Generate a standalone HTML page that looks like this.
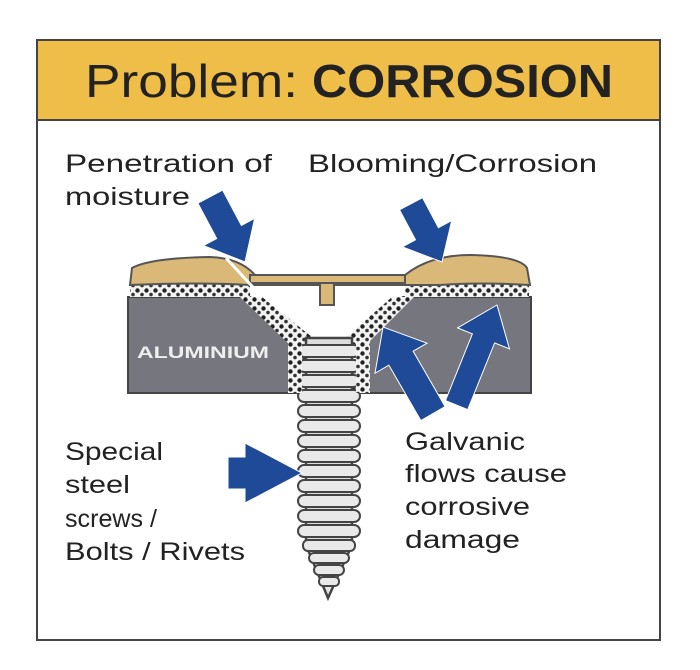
<!DOCTYPE html>
<html><head><meta charset="utf-8"><style>
html,body{margin:0;padding:0;background:#fff;width:700px;height:670px;overflow:hidden}
svg{display:block}
text{font-family:"Liberation Sans",sans-serif;fill:#222}
</style></head><body>
<svg width="700" height="670" viewBox="0 0 700 670" xmlns="http://www.w3.org/2000/svg">
<defs>
<pattern id="dots" width="9" height="9" patternUnits="userSpaceOnUse">
<rect width="9" height="9" fill="#f2f2f2"/>
<circle cx="2.5" cy="2.5" r="2.2" fill="#222"/>
<circle cx="7" cy="6.5" r="1.8" fill="#333"/>
</pattern>
</defs>
<rect x="37" y="40" width="623" height="600" fill="#fff" stroke="#444" stroke-width="2"/>
<rect x="37" y="40" width="623" height="80" fill="#efbe48" stroke="#444" stroke-width="2"/>
<text x="85" y="97" font-size="46" textLength="213" lengthAdjust="spacingAndGlyphs">Problem:</text>
<text x="312" y="97" font-size="46" font-weight="bold" textLength="301" lengthAdjust="spacingAndGlyphs">CORROSION</text>

<text x="65" y="172" font-size="25" textLength="207" lengthAdjust="spacingAndGlyphs">Penetration of</text>
<text x="65" y="205" font-size="25" textLength="125" lengthAdjust="spacingAndGlyphs">moisture</text>
<text x="308" y="172" font-size="25" textLength="289" lengthAdjust="spacingAndGlyphs">Blooming/Corrosion</text>
<text x="65" y="460" font-size="25" textLength="98" lengthAdjust="spacingAndGlyphs">Special</text>
<text x="65" y="493" font-size="25" textLength="65" lengthAdjust="spacingAndGlyphs">steel</text>
<text x="65" y="527" font-size="25" textLength="92" lengthAdjust="spacingAndGlyphs">screws /</text>
<text x="65" y="560" font-size="25" textLength="180" lengthAdjust="spacingAndGlyphs">Bolts / Rivets</text>
<text x="405" y="450" font-size="25" textLength="120" lengthAdjust="spacingAndGlyphs">Galvanic</text>
<text x="405" y="482" font-size="25" textLength="162" lengthAdjust="spacingAndGlyphs">flows cause</text>
<text x="405" y="515" font-size="25" textLength="125" lengthAdjust="spacingAndGlyphs">corrosive</text>
<text x="405" y="548" font-size="25" textLength="115" lengthAdjust="spacingAndGlyphs">damage</text>

<!-- aluminium slab -->
<polygon points="128,297 250,297 307,337 300,340 300,393 128,393" fill="#76777e" stroke="#444" stroke-width="2"/>
<polygon points="403,297 531,297 531,393 360,393 360,340 350,337" fill="#76777e" stroke="#444" stroke-width="2"/>
<text x="137" y="358" font-size="17" font-weight="bold" style="fill:#eee" textLength="132" lengthAdjust="spacingAndGlyphs">ALUMINIUM</text>
<!-- corrosion bands -->
<polygon points="240,297 262,297 312,337 310,393 288,393 290,345" fill="url(#dots)"/>
<polygon points="392,297 414,297 366,345 368,393 348,393 346,337" fill="url(#dots)"/>
<rect x="130" y="284" width="120" height="13" fill="url(#dots)"/>
<rect x="405" y="284" width="124" height="13" fill="url(#dots)"/>
<!-- tan coating -->
<path d="M130,285 L132,268 Q150,258 210,257 Q240,258 255,275 L405,275 Q430,255 470,255 Q520,256 527,268 L530,285 Q480,282 440,285 L405,285 L250,285 Q200,282 130,285 Z" fill="#d9b878" stroke="#555" stroke-width="2"/>
<rect x="250" y="275" width="155" height="8" fill="#d9b878" stroke="#555" stroke-width="2"/>
<rect x="320" y="283" width="14" height="22" fill="#d9b878" stroke="#555" stroke-width="2"/>
<line x1="226" y1="258" x2="262" y2="297" stroke="#fff" stroke-width="3"/>
<!-- screw -->
<g stroke="#444" stroke-width="2.5" fill="#e6e6e6">
<rect x="306" y="338" width="46" height="210" fill="#ddd"/>
<polygon points="306,545 352,545 328,598"/>
</g>
<g stroke="#444" stroke-width="2" fill="#e9e9e9">
<rect x="298" y="345" width="62" height="12" rx="6"/><rect x="298" y="360" width="62" height="12" rx="6"/>
<rect x="298" y="375" width="62" height="12" rx="6"/><rect x="298" y="390" width="62" height="12" rx="6"/>
<rect x="298" y="405" width="62" height="12" rx="6"/><rect x="298" y="420" width="62" height="12" rx="6"/>
<rect x="298" y="435" width="62" height="12" rx="6"/><rect x="298" y="450" width="62" height="12" rx="6"/>
<rect x="298" y="465" width="62" height="12" rx="6"/><rect x="298" y="480" width="62" height="12" rx="6"/>
<rect x="298" y="495" width="62" height="12" rx="6"/><rect x="298" y="510" width="62" height="12" rx="6"/>
<rect x="298" y="525" width="62" height="12" rx="6"/><rect x="303" y="540" width="52" height="11" rx="5"/>
<rect x="309" y="553" width="40" height="10" rx="5"/><rect x="314" y="565" width="30" height="10" rx="5"/>
<rect x="319" y="577" width="20" height="9" rx="4"/>
</g>
<rect x="288" y="340" width="14" height="53" fill="url(#dots)"/>
<rect x="356" y="340" width="14" height="53" fill="url(#dots)"/>
<!-- arrows: tip at origin, pointing +x -->
<g fill="#1e4a98" stroke="#fff" stroke-width="1">
<polygon transform="translate(245,262) rotate(62)" points="0,0 -34,-29 -34,-14 -74,-14 -74,14 -34,14 -34,29"/>
<polygon transform="translate(442,262) rotate(62)" points="0,0 -32,-28 -32,-13 -66,-13 -66,13 -32,13 -32,28"/>
<polygon transform="translate(383,327) rotate(-120)" points="0,0 -36,-30 -36,-14 -100,-14 -100,14 -36,14 -36,30"/>
<polygon transform="translate(497,305) rotate(-68)" points="0,0 -36,-28 -36,-12 -108,-12 -108,12 -36,12 -36,28"/>
<polygon transform="translate(302,473)" points="0,0 -57,-30 -57,-16 -74,-16 -74,16 -57,16 -57,30"/>
</g>
</svg>
</body></html>
